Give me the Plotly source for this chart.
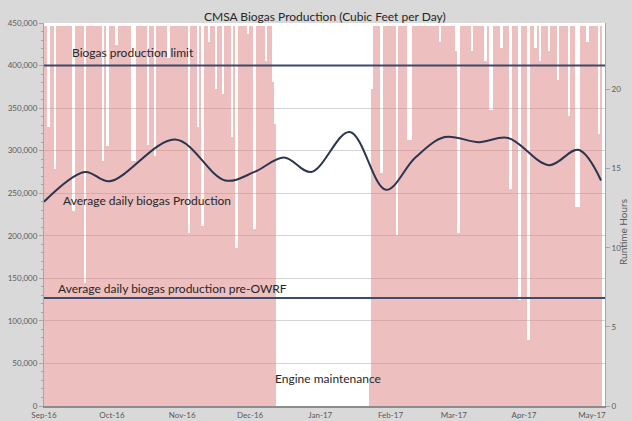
import pandas as pd
import plotly.graph_objects as go

# ---- Daily engine runtime hours (right axis), one list per month ----
sep_hours = [24, 24, 17.6, 24, 24, 15.0, 24, 24, 24, 24, 24, 24, 24, 12.3, 24, 24, 24, 24, 7.8, 24,
             24, 24, 24, 24, 24, 24, 15.5, 24, 16.4, 24]
oct_hours = [24, 24, 22.8, 24, 24, 24, 24, 24, 24, 15.5, 15.5, 24, 24, 24, 24, 24, 16.5, 24, 24, 15.8,
             24, 24, 24, 24, 24, 22.0, 24, 24, 24, 24, 24]
nov_hours = [24, 24, 24, 10.9, 24, 24, 24, 17.6, 24, 11.4, 24, 24, 23.0, 24, 24, 20.0, 24, 24, 19.7, 24,
             24, 24, 17.0, 24, 10.0, 24, 24, 24, 24, 23.5]
dec_hours = [24, 24, 11.2, 24, 24, 24, 24, 21.8, 24, 24, 20.5, 17.8, 0, 0, 0, 0, 0, 0, 0, 0,
             0, 0, 0, 0, 0, 0, 0, 0, 0, 0, 0]
jan_hours = [0, 0, 0, 0, 0, 0, 0, 0, 0, 0, 0, 0, 0, 0, 0, 0, 0, 0, 0, 0,
             0, 0, 1.5, 20.0, 24, 24, 24, 14.7, 24, 24, 24]
feb_hours = [24, 24, 24, 10.8, 24, 24, 24, 24, 16.8, 16.8, 24, 24, 24, 24, 24, 24, 24, 24, 24, 24,
             24, 24, 23.0, 24, 24, 24, 24, 24]
mar_hours = [24, 22.4, 10.9, 24, 24, 24, 24, 24, 22.4, 24, 24, 24, 24, 24, 21.8, 24, 18.7, 18.7, 24, 24,
             24, 22.6, 24, 24, 24, 13.7, 24, 24, 24, 6.7, 24]
apr_hours = [24, 24, 4.2, 24, 24, 22.6, 24, 21.8, 24, 24, 24, 22.4, 24, 24, 24, 20.6, 24, 24, 24, 24,
             18.3, 24, 24, 12.6, 12.6, 24, 24, 24, 23.0, 24]
may_hours = [24, 24, 24, 17.2, 24]

runtime_hours = (sep_hours + oct_hours + nov_hours + dec_hours + jan_hours +
                 feb_hours + mar_hours + apr_hours + may_hours)
days = pd.date_range("2016-09-01", periods=len(runtime_hours), freq="D")

# ---- Average daily biogas production (left axis, cubic feet per day) ----
avg_dates = ["2016-09-01", "2016-09-19", "2016-09-30", "2016-10-29", "2016-11-20",
             "2016-12-03", "2016-12-16", "2016-12-28", "2017-01-14", "2017-01-30",
             "2017-02-12", "2017-02-25", "2017-03-12", "2017-03-25", "2017-04-12",
             "2017-04-25", "2017-05-05"]
avg_values = [240000, 275000, 264000, 313000, 265000,
              275000, 292000, 275000, 322000, 254000,
              292000, 316000, 310000, 315000, 283000,
              301000, 265000]

limit_value = 400000
pre_owrf_value = 127000

x_start = "2016-09-01"
x_end = "2017-05-06 18:00"

month_ticks = ["2016-09-01", "2016-10-01", "2016-11-01", "2016-12-01", "2017-01-01",
               "2017-02-01", "2017-03-01", "2017-04-01", "2017-05-01"]
month_labels = ["Sep-16", "Oct-16", "Nov-16", "Dec-16", "Jan-17",
                "Feb-17", "Mar-17", "Apr-17", "May-17"]

FONT = "Lato"
TXT = "#262626"
TICK = "#595959"
NAVY = "#2b3550"
BG = "#d9d9d9"

fig = go.Figure()

fig.add_trace(go.Bar(
    x=days, y=runtime_hours, yaxis="y",
    width=86400000, marker=dict(color="rgba(220,128,128,0.5)", line=dict(width=0)),
    hoverinfo="skip", showlegend=False,
))

fig.add_trace(go.Scatter(
    x=[x_start, x_end], y=[limit_value, limit_value], yaxis="y2", mode="lines",
    line=dict(color="#3c4a6e", width=2), showlegend=False, hoverinfo="skip",
))
fig.add_trace(go.Scatter(
    x=[x_start, x_end], y=[pre_owrf_value, pre_owrf_value], yaxis="y2", mode="lines",
    line=dict(color="#3c4a6e", width=2), showlegend=False, hoverinfo="skip",
))
fig.add_trace(go.Scatter(
    x=avg_dates, y=avg_values, yaxis="y2", mode="lines",
    line=dict(color=NAVY, width=2, shape="spline", smoothing=1.0),
    showlegend=False,
))

L, R, T, B = 44, 27, 23, 15
W, H = 632, 421
pw, ph = W - L - R, H - T - B


def px(xp):
    return (xp - L) / pw


def py(yp):
    return (H - B - yp) / ph


annots = [
    dict(text="CMSA Biogas Production (Cubic Feet per Day)", x=px(325), y=py(16),
         xanchor="center", yanchor="middle", font=dict(size=12, color=TXT)),
    dict(text="Biogas production limit", x=px(70), y=py(52),
         xanchor="left", yanchor="middle", font=dict(size=12, color=TXT)),
    dict(text="Average daily biogas Production", x=px(61), y=py(200),
         xanchor="left", yanchor="middle", font=dict(size=12, color=TXT)),
    dict(text="Average daily biogas production pre-OWRF", x=px(56), y=py(288),
         xanchor="left", yanchor="middle", font=dict(size=12, color=TXT)),
    dict(text="Engine maintenance", x=px(328), y=py(378),
         xanchor="center", yanchor="middle", font=dict(size=12, color=TXT)),
    dict(text="Runtime Hours", x=px(623), y=py(232), textangle=-90,
         xanchor="center", yanchor="middle", font=dict(size=10, color=TICK)),
]
for a in annots:
    a.update(xref="paper", yref="paper", showarrow=False, font_family=FONT)

fig.update_layout(
    width=W, height=H,
    margin=dict(l=L, r=R, t=T, b=B, autoexpand=False),
    paper_bgcolor=BG, plot_bgcolor="#ffffff",
    bargap=0, font=dict(family=FONT, color=TICK),
    showlegend=False,
    annotations=annots,
    xaxis=dict(
        type="date", range=[x_start, x_end], automargin=False,
        tickvals=month_ticks, ticktext=month_labels,
        tickfont=dict(size=8, color=TICK), ticks="", ticklen=0,
        showgrid=False, showline=True, linecolor="#8c8c8c", linewidth=2,
        zeroline=False,
    ),
    yaxis=dict(
        side="right", range=[0, 24.2], tickvals=[0, 5, 10, 15, 20], automargin=False,
        tickfont=dict(size=8, color=TICK), ticks="outside", ticklen=4,
        tickcolor="#a6a6a6", showgrid=False, showline=True, linecolor="#a6a6a6",
        zeroline=False,
    ),
    yaxis2=dict(
        side="left", overlaying="y", range=[0, 450000], dtick=50000, automargin=False,
        tickformat=",", tickfont=dict(size=8, color=TICK),
        ticks="outside", ticklen=4, tickcolor="#a6a6a6",
        minor=dict(dtick=10000, ticks="outside", ticklen=2, tickcolor="#a6a6a6", showgrid=False),
        showgrid=True, gridcolor="#d4d4d4", gridwidth=1,
        showline=True, linecolor="#a6a6a6", zeroline=False,
    ),
)

fig.write_html(
    "out.html",
    config={"displayModeBar": False},
    post_script="document.body.style.margin='0';document.body.style.background='#d9d9d9';",
)
